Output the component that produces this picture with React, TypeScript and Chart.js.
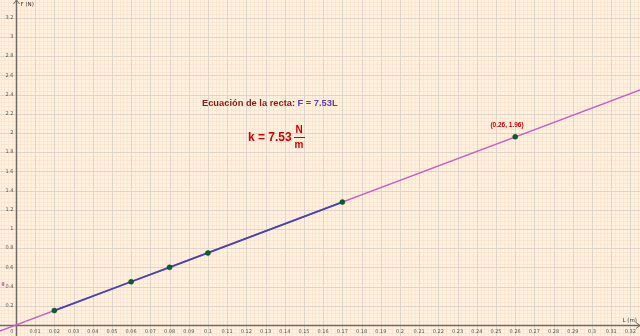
import React, { useEffect, useRef } from "react";
import { Chart, registerables } from "chart.js";

Chart.register(...registerables);

const pointsL = [0.02, 0.06, 0.08, 0.1, 0.17, 0.26];
const pointsF = [0.15, 0.45, 0.6, 0.75, 1.28, 1.96];
const fitL = [-0.01, 0.33];
const fitF = [-0.0753, 2.4849];
const xTicks = [0.01,0.02,0.03,0.04,0.05,0.06,0.07,0.08,0.09,0.1,0.11,0.12,0.13,0.14,0.15,0.16,0.17,0.18,0.19,0.2,0.21,0.22,0.23,0.24,0.25,0.26,0.27,0.28,0.29,0.3,0.31,0.32];
const yTicks = [0.2,0.4,0.6,0.8,1,1.2,1.4,1.6,1.8,2,2.2,2.4,2.6,2.8,3,3.2];
const xMin = -0.0083, xMax = 0.325, yMin = -0.115, yMax = 3.385;

const geoPlugin = {
  id: "geo",
  beforeDraw(chart: any) {
    const { ctx, scales } = chart;
    const xs = scales.x, ys = scales.y;
    ctx.save();
    ctx.fillStyle = "#FFF1DD";
    ctx.fillRect(0, 0, chart.width, chart.height);
    // minor grid
    ctx.strokeStyle = "#F8E6D2";
    ctx.lineWidth = 1;
    ctx.beginPath();
    for (let i = -5; i <= 170; i++) {
      const v = i * 0.002;
      const p = Math.round(xs.getPixelForValue(v)) + 0.5;
      ctx.moveTo(p, 0); ctx.lineTo(p, chart.height);
    }
    for (let i = -5; i <= 90; i++) {
      const v = i * 0.04;
      const p = Math.round(ys.getPixelForValue(v)) + 0.5;
      ctx.moveTo(0, p); ctx.lineTo(chart.width, p);
    }
    ctx.stroke();
    // major grid
    ctx.strokeStyle = "#DFD4CC";
    ctx.beginPath();
    for (let i = -1; i <= 33; i++) {
      const p = Math.round(xs.getPixelForValue(i * 0.01)) + 0.5;
      ctx.moveTo(p, 0); ctx.lineTo(p, chart.height);
    }
    for (let i = -1; i <= 17; i++) {
      const p = Math.round(ys.getPixelForValue(i * 0.2)) + 0.5;
      ctx.moveTo(0, p); ctx.lineTo(chart.width, p);
    }
    ctx.stroke();
    // axes
    const x0 = Math.round(xs.getPixelForValue(0)) + 0.5;
    const y0 = Math.round(ys.getPixelForValue(0)) + 0.5;
    ctx.strokeStyle = "#6E6A66";
    ctx.lineWidth = 1.5;
    ctx.beginPath();
    ctx.moveTo(x0, 0); ctx.lineTo(x0, chart.height);
    ctx.moveTo(0, y0); ctx.lineTo(chart.width, y0);
    ctx.stroke();
    ctx.lineWidth = 1;
    ctx.beginPath();
    ctx.moveTo(x0 - 3, 4); ctx.lineTo(x0, 0); ctx.lineTo(x0 + 3, 4);
    ctx.moveTo(chart.width - 4, y0 - 3); ctx.lineTo(chart.width, y0); ctx.lineTo(chart.width - 4, y0 + 3);
    ctx.stroke();
    // tick labels
    ctx.fillStyle = "#555";
    ctx.font = "5px 'DejaVu Sans', sans-serif";
    ctx.textAlign = "center";
    ctx.textBaseline = "top";
    xTicks.forEach((v) => {
      ctx.fillText(String(v), xs.getPixelForValue(v), y0 + 4);
    });
    ctx.textAlign = "right";
    ctx.fillText("0", x0 - 3, y0 + 4);
    ctx.textBaseline = "middle";
    yTicks.forEach((v) => {
      ctx.fillText(String(v), x0 - 3, ys.getPixelForValue(v));
    });
    // axis labels
    ctx.fillStyle = "#333";
    ctx.font = "5.5px 'DejaVu Sans', sans-serif";
    ctx.textAlign = "left";
    ctx.fillText("F (N)", x0 + 4, 5);
    ctx.textAlign = "right";
    ctx.fillText("L (m)", chart.width - 3, y0 - 5);
    ctx.restore();
  },
  afterDraw(chart: any) {
    const { ctx } = chart;
    ctx.save();
    ctx.textBaseline = "alphabetic";
    ctx.textAlign = "left";
    ctx.font = "bold 9.3px 'Liberation Sans', Arial, sans-serif";
    ctx.fillStyle = "#8B1A1A";
    const t1 = "Ecuación de la recta: ";
    ctx.fillText(t1, 202, 106);
    const w1 = ctx.measureText(t1).width;
    ctx.fillStyle = "#6A3AA8";
    ctx.fillText("F = 7.53L", 202 + w1, 106);
    ctx.font = "bold 12px 'Liberation Sans', Arial, sans-serif";
    ctx.fillStyle = "#D10000";
    ctx.fillText("k = 7.53", 248, 141);
    ctx.font = "bold 10px 'Liberation Sans', Arial, sans-serif";
    ctx.textAlign = "center";
    ctx.fillText("N", 299, 133);
    ctx.fillText("m", 299, 148);
    ctx.fillRect(294, 137, 11, 1);
    ctx.font = "bold 6.5px 'Liberation Sans', Arial, sans-serif";
    ctx.fillText("(0.26, 1.96)", 507, 127);
    ctx.fillStyle = "#B040B0";
    ctx.font = "bold 5px 'Liberation Sans', Arial, sans-serif";
    ctx.fillText("g", 3, 285);
    ctx.restore();
  },
};

export default function App() {
  const ref = useRef<HTMLCanvasElement>(null);
  useEffect(() => {
    document.body.style.margin = "0";
    const chart = new Chart(ref.current as HTMLCanvasElement, {
      type: "scatter",
      data: {
        datasets: [
          {
            data: fitL.map((x, i) => ({ x, y: fitF[i] })),
            showLine: true,
            borderColor: "#C45EC4",
            borderWidth: 1.5,
            pointRadius: 0,
            order: 3,
          },
          {
            data: pointsL.slice(0, 5).map((x, i) => ({ x, y: pointsF[i] })),
            showLine: true,
            borderColor: "#4545B0",
            borderWidth: 1.8,
            pointRadius: 0,
            order: 2,
          },
          {
            data: pointsL.map((x, i) => ({ x, y: pointsF[i] })),
            showLine: false,
            backgroundColor: "#0B5E2E",
            borderColor: "#0B3E1E",
            borderWidth: 0.5,
            pointRadius: 2.5,
            order: 1,
          },
        ],
      },
      options: {
        animation: false,
        responsive: false,
        maintainAspectRatio: false,
        layout: { padding: 0, autoPadding: false },
        plugins: { legend: { display: false }, tooltip: { enabled: false } },
        scales: {
          x: { type: "linear", min: xMin, max: xMax, display: false },
          y: { type: "linear", min: yMin, max: yMax, display: false },
        },
      },
      plugins: [geoPlugin],
    });
    return () => chart.destroy();
  }, []);
  return <canvas ref={ref} width={640} height={336} style={{ display: "block" }} />;
}
